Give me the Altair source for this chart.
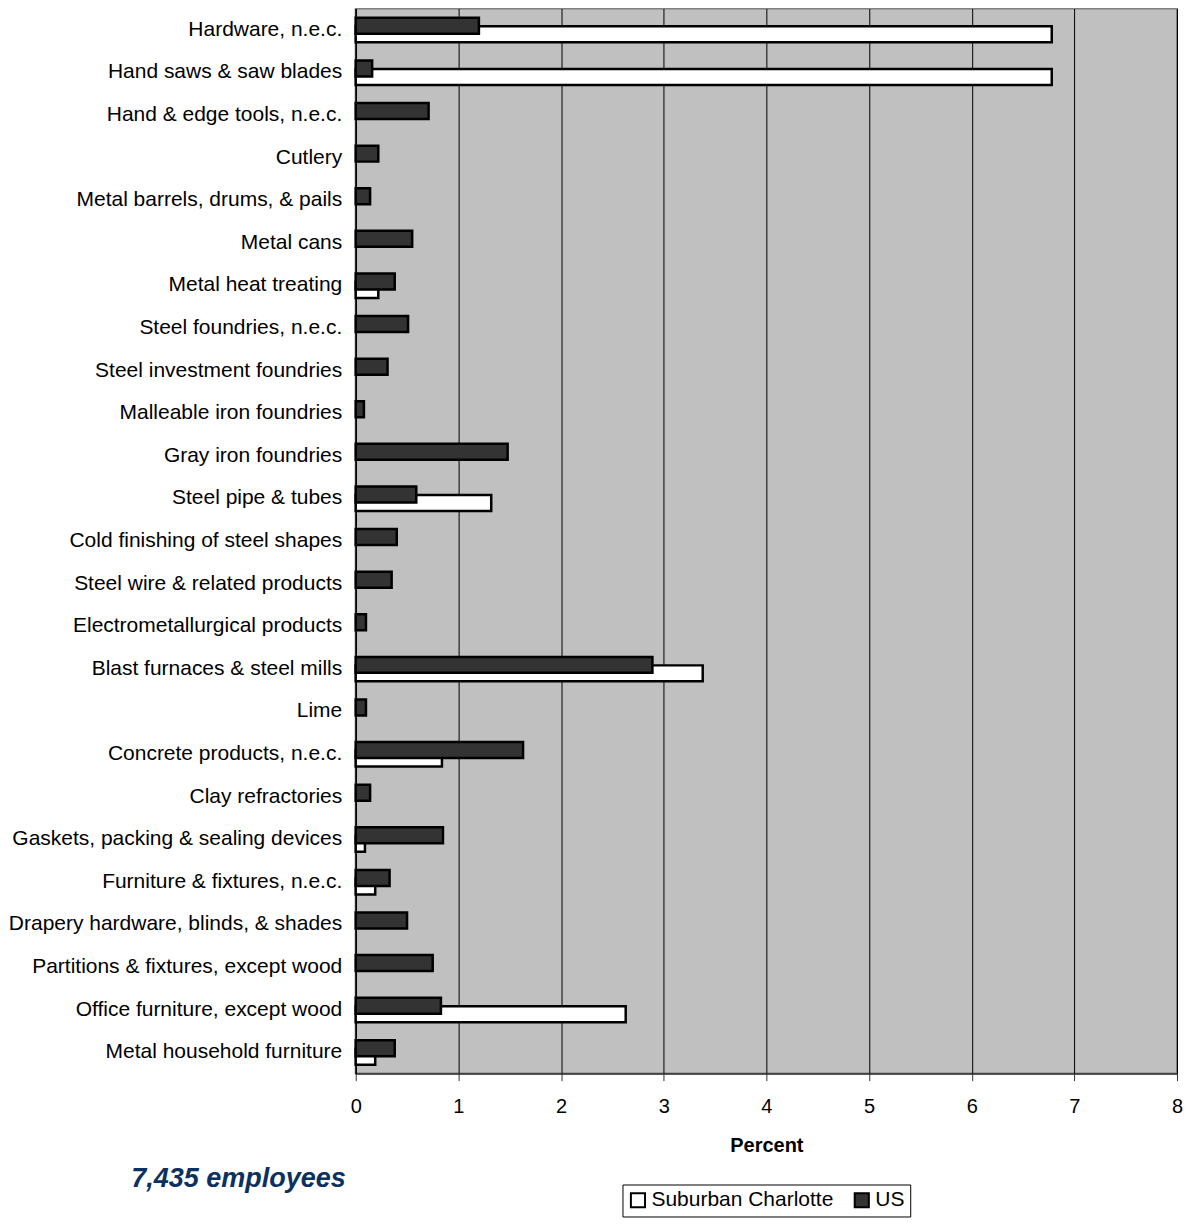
import altair as alt
import pandas as pd

categories = [
    "Hardware, n.e.c.",
    "Hand saws & saw blades",
    "Hand & edge tools, n.e.c.",
    "Cutlery",
    "Metal barrels, drums, & pails",
    "Metal cans",
    "Metal heat treating",
    "Steel foundries, n.e.c.",
    "Steel investment foundries",
    "Malleable iron foundries",
    "Gray iron foundries",
    "Steel pipe & tubes",
    "Cold finishing of steel shapes",
    "Steel wire & related products",
    "Electrometallurgical products",
    "Blast furnaces & steel mills",
    "Lime",
    "Concrete products, n.e.c.",
    "Clay refractories",
    "Gaskets, packing & sealing devices",
    "Furniture & fixtures, n.e.c.",
    "Drapery hardware, blinds, & shades",
    "Partitions & fixtures, except wood",
    "Office furniture, except wood",
    "Metal household furniture",
]

us_values = [1.20, 0.16, 0.71, 0.22, 0.14, 0.55, 0.38, 0.51, 0.31, 0.08,
             1.48, 0.59, 0.40, 0.35, 0.10, 2.89, 0.10, 1.63, 0.14, 0.85,
             0.33, 0.50, 0.75, 0.83, 0.38]

charlotte_values = [6.78, 6.78, 0.0, 0.0, 0.0, 0.0, 0.22, 0.0, 0.0, 0.0,
                    0.0, 1.32, 0.0, 0.0, 0.0, 3.38, 0.0, 0.84, 0.0, 0.09,
                    0.19, 0.0, 0.0, 2.63, 0.19]

series_names = ["Suburban Charlotte", "US"]
x_ticks = [0, 1, 2, 3, 4, 5, 6, 7, 8]
note_text = "7,435 employees"

rows = []
for c, u, s in zip(categories, us_values, charlotte_values):
    rows.append({"Industry": c, "Series": "US", "Percent": u})
    rows.append({"Industry": c, "Series": "Suburban Charlotte", "Percent": s})
df = pd.DataFrame(rows)

FONT = "Liberation Sans"
W, H = 822, 1066

color_scale = alt.Scale(domain=series_names, range=["#FFFFFF", "#333333"])

x_enc = alt.X(
    "Percent:Q",
    scale=alt.Scale(domain=[0, 8], nice=False),
    axis=alt.Axis(
        values=x_ticks, title="Percent", format="d",
        grid=True, gridColor="#000000", gridWidth=1,
        domainColor="#333333", domainWidth=1.5,
        tickColor="#333333", tickSize=7, labelFlush=False,
        labelFontSize=20, labelFont=FONT, labelColor="#000000", labelPadding=16,
        titleFontSize=20, titleFont=FONT, titleFontWeight="bold",
        titleColor="#000000", titlePadding=19,
    ),
)
y_enc = alt.Y(
    "Industry:N",
    sort=categories,
    scale=alt.Scale(paddingInner=0, paddingOuter=0),
    axis=alt.Axis(
        title=None, ticks=False, domainColor="#000000", domainWidth=1.5,
        labelFontSize=21, labelFont=FONT, labelColor="#000000", labelPadding=14,
        labelLimit=0,
    ),
)
color_enc = alt.Color(
    "Series:N",
    scale=color_scale,
    legend=alt.Legend(
        title=None, orient="none", direction="horizontal",
        legendX=267, legendY=1177,
        labelFontSize=21, labelFont=FONT, labelColor="#000000", labelLimit=0,
        symbolType="square", symbolSize=200,
        symbolStrokeColor="#000000", symbolStrokeWidth=2,
        strokeColor="#000000", fillColor="#FFFFFF", padding=5,
        columnPadding=16, labelOffset=3,
    ),
)

base = alt.Chart(df)

white = base.transform_filter(
    (alt.datum.Series == "Suburban Charlotte") & (alt.datum.Percent > 0)
).mark_bar(height=16, yOffset=4.5, stroke="#000000", strokeWidth=2.5).encode(
    x=x_enc, y=y_enc, color=color_enc
)

dark = base.transform_filter(
    alt.datum.Series == "US"
).mark_bar(height=16, yOffset=-4, stroke="#000000", strokeWidth=2.5).encode(
    x=x_enc, y=y_enc, color=color_enc
)

note = alt.Chart(pd.DataFrame({"t": [note_text]})).mark_text(
    align="right", baseline="middle", fontSize=27, font=FONT,
    fontStyle="italic", fontWeight="bold", color="#0B3160",
).encode(x=alt.value(-10), y=alt.value(1171), text="t:N")

chart = alt.layer(white, dark, note).properties(
    width=W, height=H, background="#FFFFFF",
    padding={"left": 0, "top": 0, "right": 0, "bottom": 0},
).configure_view(
    fill="#C0C0C0", stroke="#808080", strokeWidth=2,
)

chart.save("out.html", embed_options={"renderer": "svg", "actions": False})
